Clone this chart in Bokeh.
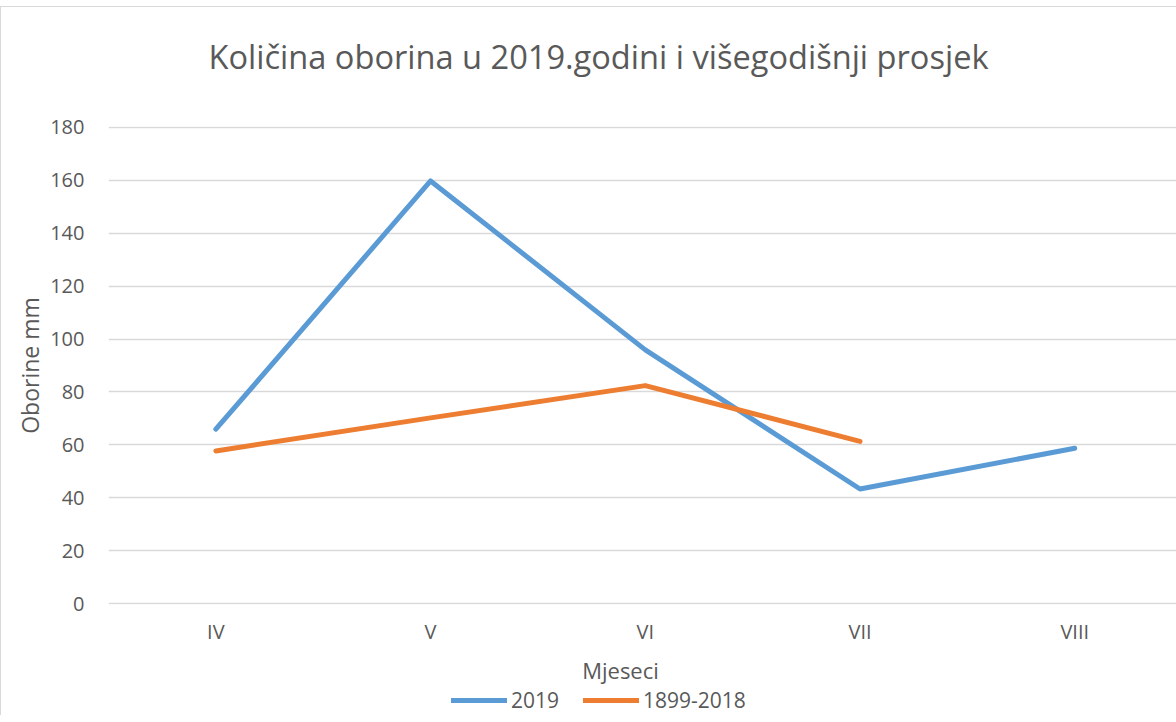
from bokeh.plotting import figure
from bokeh.layouts import column
from bokeh.models import (Range1d, FixedTicker, Legend, LegendItem, Title, Label)
from bokeh.embed import file_html
from bokeh.resources import INLINE

months = ["IV", "V", "VI", "VII", "VIII"]
rain_2019 = [65.9, 159.8, 95.9, 43.3, 58.7]
months_avg = ["IV", "V", "VI", "VII"]
rain_avg = [57.7, 70.2, 82.4, 61.3]
y_ticks = [0, 20, 40, 60, 80, 100, 120, 140, 160, 180]
series_names = ["2019", "1899-2018"]

title_text = "Količina oborina u 2019.godini i višegodišnji prosjek"
x_title = "Mjeseci"
y_title = "Oborine mm"

FONT = "Open Sans"
TXT = "#595959"
GRID = "#d9d9d9"
BLUE = "#5b9bd5"
ORANGE = "#ed7d31"

idx = {m: i for i, m in enumerate(months)}
x1 = [idx[m] for m in months]
x2 = [idx[m] for m in months_avg]

p = figure(width=1175, height=640, output_backend="svg", toolbar_location=None,
           x_range=Range1d(-0.5, 4.474), y_range=Range1d(-0.375, 180.375),
           min_border_left=107, min_border_right=0, min_border_top=119,
           min_border_bottom=40, title=None)
p.outline_line_color = None
p.background_fill_color = "white"
p.border_fill_color = "white"

p.xgrid.visible = False
p.ygrid.ticker = FixedTicker(ticks=y_ticks)
p.ygrid.grid_line_color = GRID
p.ygrid.grid_line_width = 1.5

p.yaxis.ticker = FixedTicker(ticks=y_ticks)
p.xaxis.ticker = FixedTicker(ticks=list(range(len(months))))
p.xaxis.major_label_overrides = {i: m for i, m in enumerate(months)}
for ax in (p.xaxis[0], p.yaxis[0]):
    ax.axis_line_color = None
    ax.major_tick_line_color = None
    ax.minor_tick_line_color = None
    ax.major_label_text_font = FONT
    ax.major_label_text_font_size = "20px"
    ax.major_label_text_color = TXT
p.yaxis.major_label_standoff = 18
p.xaxis.major_label_standoff = 7
p.yaxis.axis_label = y_title
p.yaxis.axis_label_text_font = FONT
p.yaxis.axis_label_text_font_size = "23px"
p.yaxis.axis_label_text_font_style = "normal"
p.yaxis.axis_label_text_color = TXT
p.yaxis.axis_label_standoff = 1

p.line(x1, rain_2019, line_color=BLUE, line_width=5, line_cap="round", line_join="round")
p.line(x2, rain_avg, line_color=ORANGE, line_width=5, line_cap="round", line_join="round")

# spacer between frame and chart title, then the title itself
p.add_layout(Title(text=" ", text_font_size="1px", standoff=45), "above")
p.add_layout(Title(text=title_text, align="left", offset=100, standoff=0,
                   text_font=FONT, text_font_size="32.6px", text_font_style="normal",
                   text_color=TXT), "above")

# footer: x-axis title and legend
f = figure(width=1175, height=68, output_backend="svg", toolbar_location=None,
           x_range=Range1d(0, 1), y_range=Range1d(0, 1),
           min_border_left=0, min_border_right=0, min_border_top=0, min_border_bottom=0,
           title=None)
f.outline_line_color = None
f.axis.visible = False
f.grid.visible = False
f.border_fill_color = "white"

l1 = f.line([-10, -9], [-10, -10], line_color=BLUE, line_width=5, line_cap="round")
l2 = f.line([-10, -9], [-10, -10], line_color=ORANGE, line_width=5, line_cap="round")

f.add_layout(Label(x=512, y=46, x_units="screen", y_units="screen", text=x_title,
                   text_font=FONT, text_font_size="22px", text_color=TXT,
                   text_align="center", text_baseline="alphabetic"))

legend = Legend(items=[LegendItem(label=series_names[0], renderers=[l1]),
                       LegendItem(label=series_names[1], renderers=[l2])],
                orientation="horizontal", location=(343, 1),
                glyph_width=56, glyph_height=20, label_height=20, label_width=0,
                label_standoff=4, spacing=24, padding=0, margin=0,
                border_line_alpha=0, background_fill_alpha=0,
                label_text_font=FONT, label_text_font_size="21px",
                label_text_color=TXT)
f.add_layout(legend, "center")

layout = column(p, f, spacing=0)
layout.styles = {"border-top": "1px solid #d9d9d9", "border-left": "1px solid #d9d9d9",
                 "margin-top": "6px"}

open("out.html", "w").write(file_html(layout, INLINE))
